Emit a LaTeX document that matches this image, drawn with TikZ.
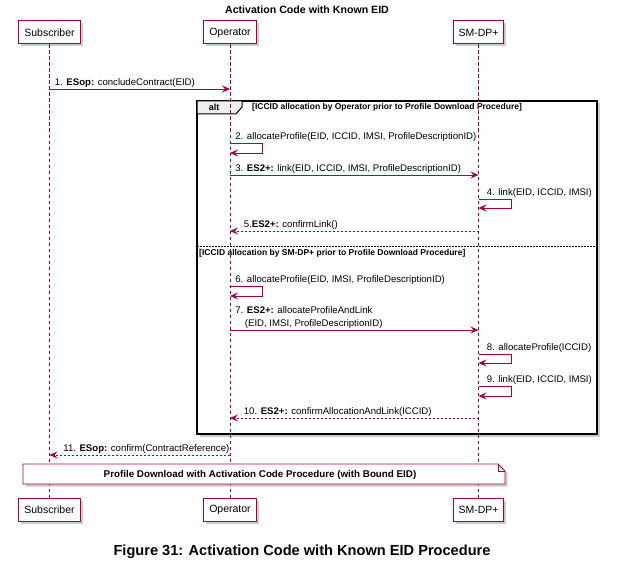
\documentclass[tikz,border=0pt]{standalone}
\usepackage{fontspec}
\setmainfont{Liberation Sans}
\usepackage{tikz}
\usetikzlibrary{arrows.meta,shadows}
\definecolor{umlred}{HTML}{A80036}
\definecolor{umlgray}{HTML}{EEEEEE}
\tikzset{
  shad/.style={drop shadow={shadow xshift=2.5bp,shadow yshift=-2.5bp,fill=black!40,opacity=.5}},
  part/.style={rectangle,draw=umlred,line width=1bp,fill=white,shad,minimum height=23bp,inner xsep=5.5bp,font=\fontsize{10.5bp}{12bp}\selectfont},
  life/.style={draw=umlred,line width=.8bp,dash pattern=on 3.5bp off 2.5bp},
  msg/.style={-{Stealth[length=8bp,width=7bp,inset=3bp]},draw=umlred,line width=.8bp},
  ret/.style={msg,dash pattern=on 2bp off 2bp},
  lbl/.style={font=\fontsize{9.6bp}{13bp}\selectfont,inner sep=0pt,anchor=base west,align=left},
  altbox/.style={draw=black,line width=1.5bp,fill=white,shad},
  alttab/.style={draw=black,line width=1bp,fill=umlgray},
  altsep/.style={draw=black,line width=.7bp,dash pattern=on 1.5bp off 1.5bp},
  cond/.style={font=\bfseries\fontsize{8.5bp}{10bp}\selectfont,inner sep=0pt,anchor=west},
  notebox/.style={draw=umlred,line width=.8bp,fill=white,shad},
}

\begin{document}
\begin{tikzpicture}[x=1bp,y=-1bp]
  \useasboundingbox (0,0) rectangle (617,575);
  \node[font=\bfseries\fontsize{10.6bp}{12bp}\selectfont] (title) at (307,10) {Activation Code with Known EID};

  \draw[altbox] (197,101) rectangle (597,434);
  \draw[alttab] (197,101) -- (242,101) -- (242,107) -- (236,114) -- (197,114) -- cycle;
  \node[font=\bfseries\fontsize{9bp}{10bp}\selectfont] (alt) at (214,107.5) {alt};
  \node[cond] (g1) at (252,107) {[ICCID allocation by Operator prior to Profile Download Procedure]};
  \draw[altsep] (197,246) -- (597,246);
  \node[cond] (g2) at (199,253) {[ICCID allocation by SM-DP+ prior to Profile Download Procedure]};

  \foreach \p/\x/\t in {sub/49.5/Subscriber,op/230/Operator,dp/478.5/SM-DP+}{
    \node[part] (\p) at (\x,32.5) {\t};
    \node[part] (\p B) at (\x,509.5) {\t};
    \draw[life] (\p) -- (\p B);}

  \foreach \n/\y in {1/89,2/143,3/175,4/199,5/231,6/286,7/330,8/354,9/386,10/418,11/455}
    \coordinate (a\n) at (0,\y);

  \draw[msg] (sub |- a1) node[lbl,xshift=5bp,yshift=3.5bp] (m1) {1. \textbf{ESop:} concludeContract(EID)} -- (op |- a1);
  \draw[msg] (op |- a2) node[lbl,xshift=5bp,yshift=3.5bp] (m2) {2. allocateProfile(EID, ICCID, IMSI, ProfileDescriptionID)} -- ++(32,0) -- ++(0,10) -- ++(-32,0);
  \draw[msg] (op |- a3) node[lbl,xshift=5bp,yshift=3.5bp] (m3) {3. \textbf{ES2+:} link(EID, ICCID, IMSI, ProfileDescriptionID)} -- (dp |- a3);
  \draw[msg] (dp |- a4) node[lbl,xshift=8bp,yshift=3.5bp] (m4) {4. link(EID, ICCID, IMSI)} -- ++(33,0) -- ++(0,9) -- ++(-33,0);
  \draw[ret] (dp |- a5) -- (op |- a5) node[lbl,xshift=13.5bp,yshift=3.5bp] (m5) {5.\textbf{ES2+:} confirmLink()};
  \draw[msg] (op |- a6) node[lbl,xshift=5bp,yshift=3.5bp] (m6) {6. allocateProfile(EID, IMSI, ProfileDescriptionID)} -- ++(32,0) -- ++(0,10) -- ++(-32,0);
  \draw[msg] (op |- a7) node[lbl,xshift=5bp,yshift=3.5bp] (m7) {7. \textbf{ES2+:} allocateProfileAndLink\\\hspace*{9.5bp}(EID, IMSI, ProfileDescriptionID)} -- (dp |- a7);
  \draw[msg] (dp |- a8) node[lbl,xshift=8bp,yshift=3.5bp] (m8) {8. allocateProfile(ICCID)} -- ++(33,0) -- ++(0,9) -- ++(-33,0);
  \draw[msg] (dp |- a9) node[lbl,xshift=8bp,yshift=3.5bp] (m9) {9. link(EID, ICCID, IMSI)} -- ++(33,0) -- ++(0,10) -- ++(-33,0);
  \draw[ret] (dp |- a10) -- (op |- a10) node[lbl,xshift=13.5bp,yshift=3.5bp] (m10) {10. \textbf{ES2+:} confirmAllocationAndLink(ICCID)};
  \draw[ret] (op |- a11) -- (sub |- a11) node[lbl,xshift=13.5bp,yshift=3.5bp] (m11) {11. \textbf{ESop:} confirm(ContractReference)};

  \draw[notebox] (23,464) -- (498,464) -- (505,471) -- (505,484) -- (23,484) -- cycle;
  \draw[umlred,line width=.8bp] (498,464) |- (505,471);
  \node[font=\bfseries\fontsize{9.8bp}{12bp}\selectfont] (note) at (260,474.5) {Profile Download with Activation Code Procedure (with Bound EID)};

  \node[font=\bfseries\fontsize{14.6bp}{17bp}\selectfont] (caption) at (302,552) {Figure 31: Activation Code with Known EID Procedure};
\end{tikzpicture}
\end{document}
